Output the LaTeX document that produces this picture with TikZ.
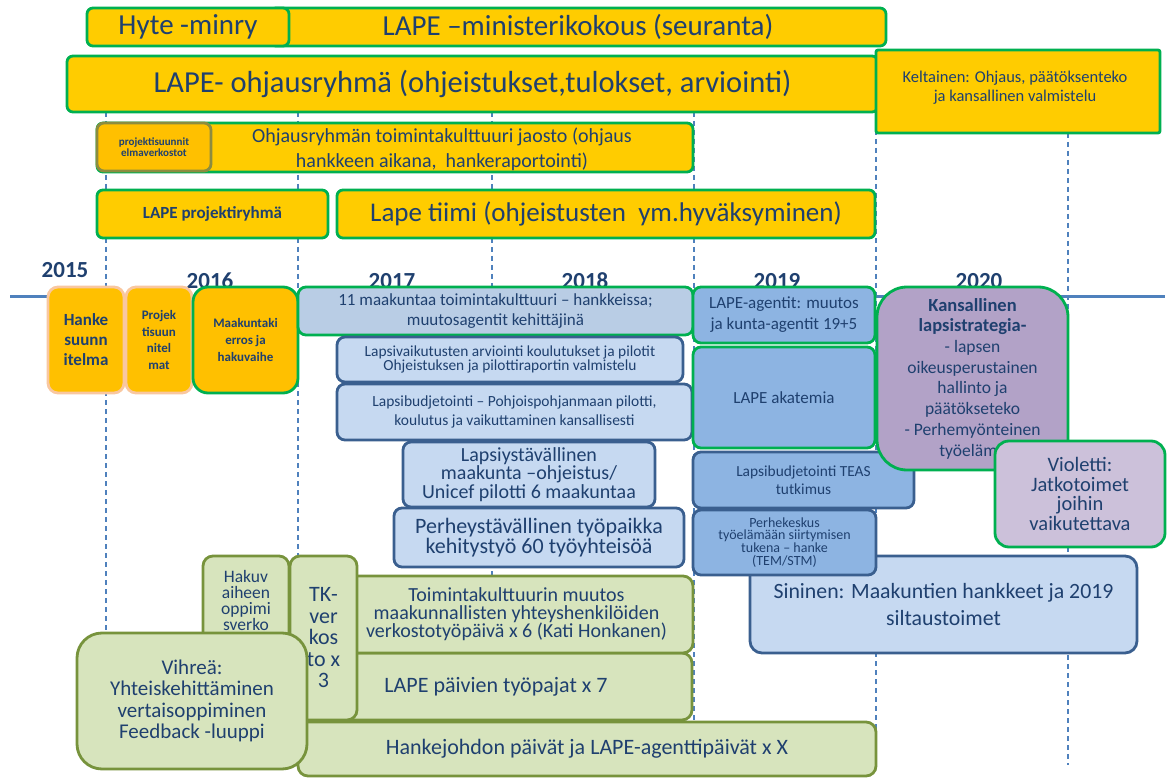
\documentclass[tikz,border=0pt]{standalone}
\usepackage{fontspec}
\setmainfont{Carlito}
\definecolor{yel}{HTML}{FFCC00}
\definecolor{org}{HTML}{FFC000}
\definecolor{grn}{HTML}{00B050}
\definecolor{txt}{HTML}{1F406F}
\definecolor{peach}{HTML}{F9C7A0}
\definecolor{olv}{HTML}{8C8C40}
\definecolor{gblue}{HTML}{B9CDE5}
\definecolor{lblue}{HTML}{C6D9F1}
\definecolor{mblue}{HTML}{8DB4E2}
\definecolor{dblue}{HTML}{3A5F8F}
\definecolor{purp}{HTML}{B2A2C7}
\definecolor{lpurp}{HTML}{CCC1DA}
\definecolor{lgrn}{HTML}{D7E4BD}
\definecolor{ogrn}{HTML}{77933C}
\definecolor{tline}{HTML}{4F81BD}
\newcommand\fs[2]{\fontsize{#1}{#2}\selectfont}
\newcommand\rbox[7]{\node[#1, minimum width={#5-#3}, minimum height={#6-#4}] (#2) at (#3,#4) {#7};}
\begin{document}
\begin{tikzpicture}[x=1pt,y=-1pt,
 base/.style={draw, line width=2.8pt, inner sep=0pt, outer sep=0pt, align=center, text=txt, anchor=north west},
 ybox/.style={base, fill=yel, draw=grn, rounded corners=6pt},
 obox/.style={base, fill=org, draw=peach, rounded corners=10pt},
 bbox/.style={base, fill=lblue, draw=dblue, rounded corners=8pt},
 bgbox/.style={base, fill=mblue, draw=grn, rounded corners=8pt},
 bdbox/.style={base, fill=mblue, draw=dblue, rounded corners=8pt},
 gbox/.style={base, fill=lgrn, draw=ogrn, rounded corners=10pt},
 year/.style={text=txt, font=\fs{23}{26}\bfseries, inner sep=0pt},
 lbl/.style={text=txt, align=center, inner sep=0pt},
 gridl/.style={tline, line width=1.3pt, dash pattern=on 5pt off 4pt},
]
\fill[white] (0,0) rectangle (1173,778);
\useasboundingbox (0,0) rectangle (1173,778);

% grid and timeline
\foreach \x in {106,298,492,694,876} \draw[gridl] (\x,112) -- (\x,765);
\draw[gridl] (1068,133) -- (1068,765);
\coordinate (tlA) at (10,296);
\coordinate (tlB) at (1165,296);
\draw[tline, line width=3pt] (tlA) -- (tlB);

% years
\node[year] (y15) at (65,270) {2015};
\node[year] (y16) at (210,281) {2016};
\node[year] (y17) at (392,281) {2017};
\node[year] (y18) at (585,281) {2018};
\node[year] (y19) at (777,281) {2019};
\node[year] (y20) at (979,281) {2020};

% top yellow
\rbox{ybox, font=\fs{29}{32}}{mini}{270}{8}{886}{46}{LAPE –ministerikokous (seuranta)}
\rbox{ybox, font=\fs{29}{32}}{hyte}{87}{8}{289}{46}{Hyte -minry}
\rbox{ybox, font=\fs{30.5}{34}}{ohj}{67}{56}{878}{112}{LAPE- ohjausryhmä (ohjeistukset,tulokset, arviointi)}
\rbox{ybox, rounded corners=2pt}{kelt}{876}{50}{1160}{133}{}
\node[lbl, font=\fs{16.5}{19}] (keltt) at (1015,88) {Keltainen: Ohjaus, päätöksenteko\\ja kansallinen valmistelu};
\rbox{ybox}{jaos}{97}{123}{693}{172}{}
\node[lbl, font=\fs{20}{25}] (jaost) at (442,149) {Ohjausryhmän toimintakulttuuri jaosto (ohjaus\\hankkeen aikana,\ \ hankeraportointi)};
\rbox{base, fill=org, draw=olv, rounded corners=7pt, font=\fs{11}{10.5}\bfseries}{psv}{97}{123}{211}{171}{projektisuunnit\\elmaverkostot}
\rbox{ybox, font=\fs{17}{20}\bfseries}{pr}{97}{190}{328}{238}{LAPE projektiryhmä}
\rbox{ybox, font=\fs{27}{30}}{tiimi}{337}{190}{875}{238}{Lape tiimi (ohjeistusten\ \ ym.hyväksyminen)}

% timeline row orange
\rbox{obox, font=\fs{17}{20}\bfseries}{hanke}{48}{287}{124}{393}{Hanke\\suunn\\itelma}
\rbox{obox, font=\fs{13}{16.5}\bfseries}{projek}{126}{287}{192}{393}{Projek\\tisuun\\nitel\\mat}
\rbox{base, fill=org, draw=grn, rounded corners=15pt, font=\fs{13}{17}\bfseries}{maak}{193}{287}{298}{393}{Maakuntaki\\erros ja\\hakuvaihe}

% blue boxes
\rbox{base, fill=gblue, draw=grn, rounded corners=8pt, font=\fs{17}{20}}{m11}{298}{287}{693}{335}{11 maakuntaa toimintakulttuuri – hankkeissa;\\muutosagentit kehittäjinä}
\rbox{bbox, font=\fs{15.4}{11.5}}{lvaik}{337}{337}{683}{382}{Lapsivaikutusten arviointi koulutukset ja pilotit\\Ohjeistuksen ja pilottiraportin valmistelu}
\rbox{bbox, font=\fs{15.5}{19.5}}{lbud}{337}{384}{692}{440}{Lapsibudjetointi – Pohjoispohjanmaan pilotti,\\koulutus ja vaikuttaminen kansallisesti}
\rbox{bbox, font=\fs{20}{14.5}}{lyst}{403}{442}{655}{507}{Lapsiystävällinen\\maakunta –ohjeistus/\\Unicef pilotti 6 maakuntaa}
\rbox{bbox, font=\fs{22}{18.5}}{perh}{394}{508}{684}{567}{Perheystävällinen työpaikka\\kehitystyö 60 työyhteisöä}
\rbox{bgbox, font=\fs{17}{21}}{agent}{693}{287}{875}{343}{LAPE-agentit: muutos\\ja kunta-agentit 19+5}
\rbox{bgbox, font=\fs{17}{20}}{akat}{693}{347}{875}{448}{LAPE akatemia}
\rbox{bdbox, font=\fs{15.4}{18}}{teas}{693}{452}{914}{508}{Lapsibudjetointi TEAS\\tutkimus}
\rbox{bbox, rounded corners=12pt, font=\fs{21.8}{27}}{sini}{750}{556}{1137}{653}{Sininen: Maakuntien hankkeet ja 2019\\siltaustoimet}
\rbox{bdbox, font=\fs{14}{12.8}}{phk}{693}{510}{876}{575}{Perhekeskus\\työelämään siirtymisen\\tukena – hanke\\(TEM/STM)}
\rbox{base, fill=purp, draw=grn, rounded corners=30pt, font=\fs{17.5}{20.7}}{kans}{877}{287}{1068}{470}{\textbf{\fs{18.5}{20.7}Kansallinen}\\\textbf{\fs{18.5}{20.7}lapsistrategia-}\\- lapsen\\oikeusperustainen\\hallinto ja\\päätökseteko\\- Perhemyönteinen\\työelämä}
\rbox{base, fill=lpurp, draw=grn, rounded corners=14pt, font=\fs{20.5}{19.5}}{viol}{995}{441}{1165}{547}{Violetti:\\Jatkotoimet\\joihin\\vaikutettava}

% green boxes
\rbox{gbox}{hakuv}{203}{556}{289}{690}{}
\node[lbl, font=\fs{17.5}{16}] (hakuvt) at (246,600) {Hakuv\\aiheen\\oppimi\\sverko};
\rbox{gbox, font=\fs{22}{24}}{paiv}{300}{653}{692}{720}{LAPE päivien työpajat x 7}
\rbox{gbox, font=\fs{20}{18}}{toim}{340}{576}{693}{653}{Toimintakulttuurin muutos\\maakunnallisten yhteyshenkilöiden\\verkostotyöpäivä x 6 (Kati Honkanen)}
\rbox{gbox, font=\fs{22}{24}}{hjoh}{298}{722}{876}{776}{Hankejohdon päivät ja LAPE-agenttipäivät x X}
\rbox{gbox, font=\fs{22}{21.5}}{tk}{290}{556}{357}{720}{TK-\\ver\\kos\\to x\\3}
\rbox{gbox, rounded corners=25pt, font=\fs{21}{21.5}}{vihr}{77}{633}{307}{769}{Vihreä:\\Yhteiskehittäminen\\vertaisoppiminen\\Feedback -luuppi}
\end{tikzpicture}
\end{document}
